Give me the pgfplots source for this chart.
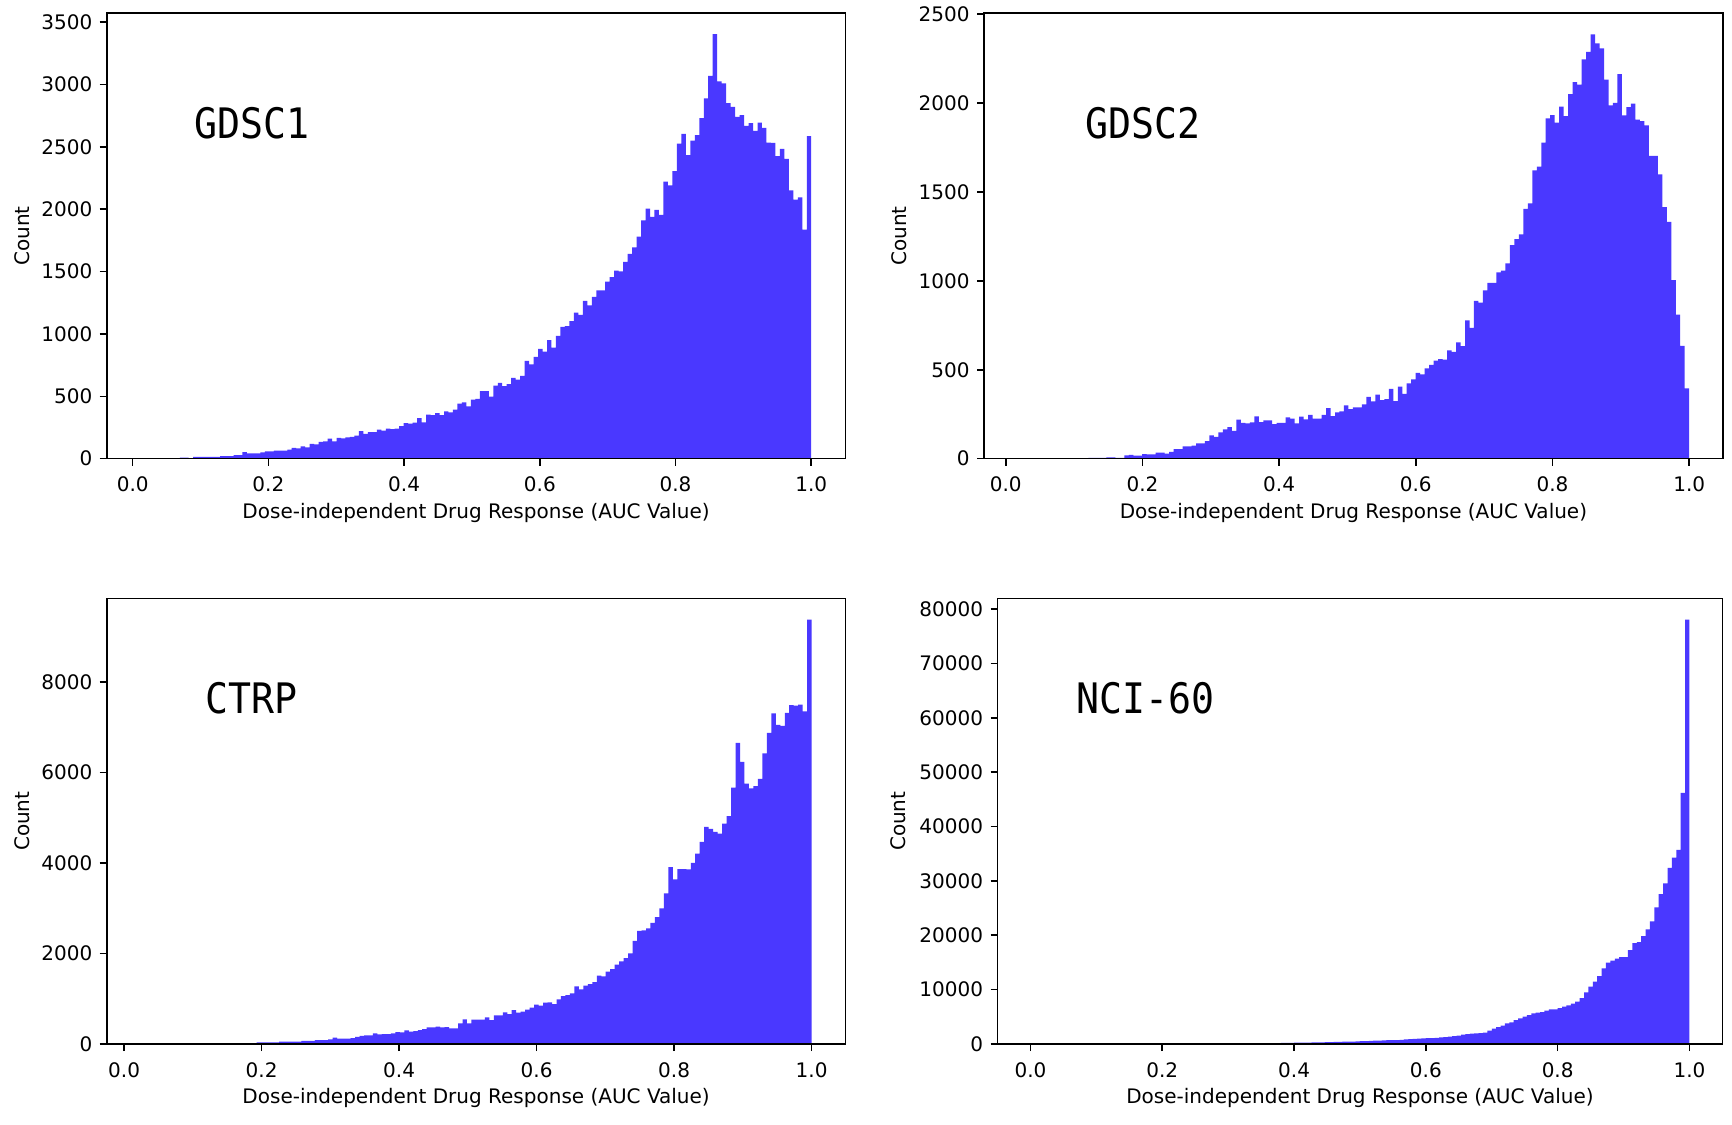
\documentclass[border=0pt]{standalone}
\usepackage{fontspec}
\setmainfont{DejaVu Sans}
\newfontfamily\titlefont[FakeStretch=0.91]{DejaVu Sans Mono}
\usepackage{pgfplots}
\usepackage{pgfplotstable}
\pgfplotsset{compat=1.18}
\definecolor{barblue}{RGB}{74,56,255}

\pgfplotstableread{
i c
9 8
10 8
11 5
12 15
13 15
14 15
15 15
16 15
17 15
18 21
19 21
20 21
21 29
22 29
23 53
24 43
25 43
26 43
27 51
28 59
29 59
30 64
31 64
32 64
33 72
34 86
35 83
36 99
37 91
38 118
39 115
40 134
41 139
42 160
43 139
44 166
45 163
46 171
47 174
48 184
49 222
50 198
51 214
52 214
53 233
54 225
55 241
56 238
57 241
58 262
59 286
60 281
61 289
62 326
63 291
64 353
65 350
66 366
67 350
68 380
69 372
70 393
71 441
72 452
73 420
74 473
75 479
76 541
77 541
78 498
79 586
80 608
81 581
82 597
83 648
84 634
85 664
86 784
87 757
88 816
89 881
90 859
91 950
92 891
93 985
94 1057
95 1063
96 1103
97 1172
98 1154
99 1266
100 1229
101 1298
102 1349
103 1349
104 1419
105 1456
106 1507
107 1502
108 1579
109 1643
110 1694
111 1780
112 1911
113 2005
114 1938
115 1994
116 1954
117 2222
118 2192
119 2305
120 2527
121 2604
122 2433
123 2551
124 2594
125 2730
126 2888
127 3070
128 3405
129 3025
130 3009
131 2851
132 2821
133 2741
134 2754
135 2669
136 2690
137 2628
138 2695
139 2652
140 2535
141 2532
142 2425
143 2484
144 2404
145 2152
146 2077
147 2096
148 1836
149 2586
150 2586
}\gdscone

\pgfplotstableread{
i c
16 5
17 5
18 5
19 5
20 8
21 8
22 5
23 5
24 19
25 22
26 17
27 17
28 26
29 24
30 24
31 34
32 34
33 28
34 39
35 54
36 54
37 69
38 69
39 73
40 86
41 86
42 99
43 131
44 122
45 148
46 165
47 178
48 157
49 219
50 202
51 199
52 204
53 238
54 206
55 216
56 216
57 195
58 201
59 202
60 232
61 225
62 199
63 236
64 221
65 247
66 225
67 225
68 247
69 285
70 240
71 260
72 266
73 300
74 279
75 289
76 289
77 305
78 347
79 322
80 360
81 330
82 335
83 392
84 324
85 405
86 364
87 424
88 446
89 482
90 474
91 508
92 527
93 551
94 560
95 557
96 609
97 600
98 654
99 633
100 778
101 736
102 888
103 877
104 946
105 989
106 988
107 1048
108 1057
109 1098
110 1201
111 1235
112 1261
113 1404
114 1435
115 1621
116 1642
117 1777
118 1913
119 1932
120 1889
121 1979
122 1926
123 2050
124 2118
125 2104
126 2245
127 2288
128 2386
129 2335
130 2307
131 2131
132 1986
133 2001
134 2163
135 1930
136 1977
137 1996
138 1906
139 1898
140 1874
141 1703
142 1703
143 1599
144 1415
145 1331
146 1004
147 810
148 635
149 395
150 395
}\gdsctwo

\pgfplotstableread{
i c
15 10
16 10
17 10
18 10
19 10
20 10
21 20
22 20
23 20
24 20
25 20
26 35
27 35
28 35
29 35
30 35
31 55
32 55
33 55
34 55
35 55
36 70
37 70
38 70
39 85
40 85
41 85
42 103
43 140
44 118
45 118
46 118
47 132
48 155
49 177
50 191
51 191
52 236
53 213
54 221
55 221
56 236
57 265
58 258
59 302
60 272
61 287
62 309
63 331
64 368
65 368
66 383
67 368
68 375
69 346
70 346
71 456
72 545
73 456
74 537
75 537
76 537
77 589
78 530
79 633
80 633
81 699
82 662
83 751
84 692
85 714
86 758
87 802
88 868
89 846
90 913
91 920
92 883
93 986
94 1060
95 1082
96 1119
97 1273
98 1207
99 1288
100 1325
101 1369
102 1509
103 1494
104 1597
105 1656
106 1752
107 1825
108 1899
109 2002
110 2282
111 2502
112 2510
113 2554
114 2679
115 2804
116 2996
117 3327
118 3908
119 3636
120 3864
121 3864
122 3857
123 4004
124 4210
125 4468
126 4799
127 4755
128 4688
129 4652
130 4872
131 5034
132 5667
133 6653
134 6234
135 5756
136 5652
137 5697
138 5859
139 6425
140 6874
141 7308
142 7051
143 7029
144 7316
145 7492
146 7478
147 7500
148 7353
149 9377
150 9377
}\ctrp

\pgfplotstableread{
i c
45 40
46 40
47 40
48 40
49 40
50 40
51 100
52 100
53 100
54 100
55 100
56 180
57 190
58 200
59 220
60 240
61 250
62 260
63 275
64 290
65 300
66 320
67 340
68 360
69 380
70 400
71 420
72 440
73 460
74 490
75 520
76 550
77 580
78 610
79 640
80 670
81 700
82 720
83 735
84 780
85 830
86 880
87 930
88 980
89 1030
90 1080
91 1100
92 1150
93 1200
94 1280
95 1350
96 1450
97 1550
98 1715
99 1800
100 1900
101 1960
102 2000
103 2080
104 2450
105 2820
106 3120
107 3370
108 3800
109 3980
110 4410
111 4720
112 5020
113 5300
114 5640
115 5760
116 5880
117 6130
118 6370
119 6370
120 6620
121 6860
122 7110
123 7410
124 7780
125 8460
126 9500
127 10540
128 11460
129 12500
130 13910
131 14950
132 15320
133 15690
134 15990
135 15990
136 17280
137 18560
138 18750
139 19850
140 21080
141 22550
142 25120
143 27570
144 29530
145 32410
146 34310
147 35720
148 46200
149 78060
150 78060
}\nci

\pgfplotsset{
  histax/.style={
    scale only axis,
    width=369.4pt, height=222.75pt,
    axis on top,
    axis line style={line width=0.8pt, black},
    tick align=outside,
    major tick length=3.5pt,
    every tick/.style={black, line width=0.8pt},
    xtick pos=bottom, ytick pos=left,
    xtick={0,0.2,0.4,0.6,0.8,1},
    xticklabels={0.0,0.2,0.4,0.6,0.8,1.0},
    scaled y ticks=false,
    ymin=0,
    ticklabel style={font=\fontsize{10}{12}\selectfont},
    xticklabel style={anchor=north, inner sep=0pt, yshift=-5.5pt},
    yticklabel style={anchor=east, inner sep=0pt, xshift=-3.5pt},
    xlabel={Dose-independent Drug Response (AUC Value)},
    ylabel={Count},
    label style={font=\fontsize{10}{12}\selectfont},
    xlabel style={at={(axis description cs:0.5,-0.0994)}, anchor=north, inner sep=0pt},
    ylabel style={at={(axis description cs:-0.1042,0.5)}, anchor=south, inner sep=0pt},
  },
  histbar/.style={fill=barblue, draw=none, const plot mark left},
}
\tikzset{ttl/.style={anchor=base west, inner sep=0pt, font=\titlefont\fontsize{21}{25}\selectfont}}

\begin{document}
\begin{tikzpicture}
\useasboundingbox (0,0) rectangle (866pt,562pt);

% GDSC1
\begin{axis}[histax, at={(53.35pt,332.65pt)}, anchor=south west,
  xmin=-0.0383, xmax=1.0505, ymax=3572,
  ytick={0,500,1000,1500,2000,2500,3000,3500},
  yticklabels={0,500,1000,1500,2000,2500,3000,3500}]
\addplot[histbar] table[x expr={1-(150-\thisrow{i})*0.0066}, y=c] {\gdscone} \closedcycle;
\node[ttl] at (rel axis cs:0.118,0.719) {GDSC1};
\end{axis}

% GDSC2
\begin{axis}[histax, at={(492pt,332.65pt)}, anchor=south west,
  xmin=-0.0318, xmax=1.0492, ymax=2505,
  ytick={0,500,1000,1500,2000,2500},
  yticklabels={0,500,1000,1500,2000,2500}]
\addplot[histbar] table[x expr={1-(150-\thisrow{i})*0.00656}, y=c] {\gdsctwo} \closedcycle;
\node[ttl] at (rel axis cs:0.137,0.719) {GDSC2};
\end{axis}

% CTRP
\begin{axis}[histax, at={(53.35pt,40pt)}, anchor=south west,
  xmin=-0.0253, xmax=1.0493, ymax=9846,
  ytick={0,2000,4000,6000,8000},
  yticklabels={0,2000,4000,6000,8000}]
\addplot[histbar] table[x expr={1-(150-\thisrow{i})*0.00651}, y=c] {\ctrp} \closedcycle;
\node[ttl] at (rel axis cs:0.133,0.742) {CTRP};
\end{axis}

% NCI-60
\begin{axis}[histax, at={(498.75pt,40pt)}, anchor=south west,
  width=362.45pt,
  xmin=-0.05, xmax=1.05, ymax=81963,
  ytick={0,10000,20000,30000,40000,50000,60000,70000,80000},
  yticklabels={0,10000,20000,30000,40000,50000,60000,70000,80000},
  ylabel style={at={(axis description cs:-0.1253,0.5)}}]
\addplot[histbar] table[x expr={\thisrow{i}/150}, y=c] {\nci} \closedcycle;
\node[ttl] at (rel axis cs:0.108,0.742) {NCI-60};
\end{axis}
\end{tikzpicture}
\end{document}
